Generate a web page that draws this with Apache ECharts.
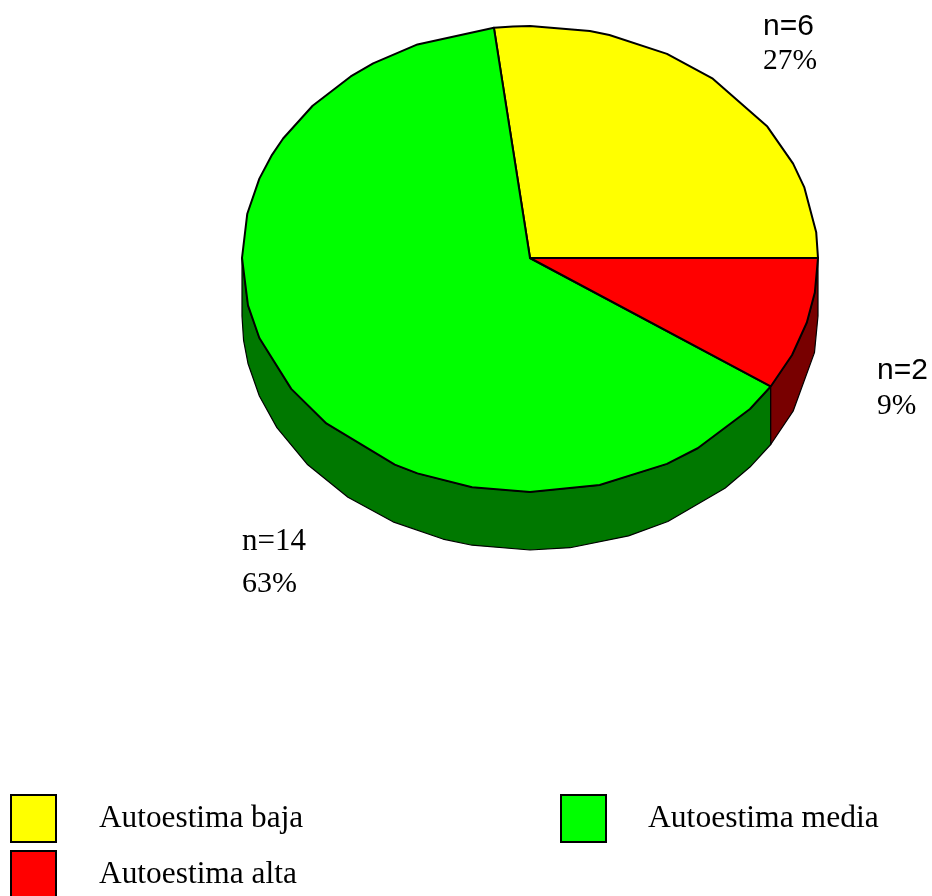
<!DOCTYPE html>
<html>
<head>
<meta charset="utf-8">
<style>html,body{margin:0;padding:0;background:#fff}#c{width:932px;height:896px}</style>
<script src="https://cdn.jsdelivr.net/npm/echarts@6/dist/echarts.min.js"></script>
</head>
<body>
<div id="c"></div>
<script>
// Data
const categories = ['Autoestima baja', 'Autoestima media', 'Autoestima alta'];
const counts = [6, 14, 2];
const countLabels = ['n=6', 'n=14', 'n=2'];
const percentLabels = ['27%', '63%', '9%'];
const sliceShares = [27, 63.75, 9.25];

// Appearance
const topColors = ['#ffff00', '#00ff00', '#ff0000'];
const sideColors = ['#7a7a00', '#007800', '#780000'];
const countFonts = ['"Liberation Sans"', '"Liberation Serif"', '"Liberation Sans"'];
const countSizes = [30, 31, 30];
const percentSizes = [29.5, 30, 29.5];
const labelAnchors = [[763, 27, 61], [242, 542, 584], [877, 371, 406]];
const legendAnchors = [[10, 794], [560, 794], [10, 850]];
const legendTextLift = [6, 6, 10];
const legendFontSizes = [31.3, 31.6, 31.4];
const legendTextGap = [38, 37, 38];
const CX = 530, CY = 258, RX = 288, RY_UP = 232, RY_DOWN = 234, DEPTH = 58;
// The outline of the disc is faceted: ellipse angles of the facets of its top rim and of its lower rim.
const topFacets = [0, 6.4, 17.8, 24, 34.5, 50.6, 61.6, 74, 78, 90, 93.4, 113, 123, 128.5, 139, 149, 153.6, 160, 169, 180,
  191.7, 200, 214, 225, 242, 247, 258.4, 270, 284, 298.4, 305.6, 319.8, 335.5, 344, 351.5, 360];
const lowerFacets = [180, 186, 191.7, 200, 208.5, 219.3, 230.8, 241.6, 252.4, 258.4, 270, 278, 290, 298.6, 312.6, 319.8,
  336, 351, 360];

const total = sliceShares.reduce((a, b) => a + b, 0);
const pt = (deg, dy) => {
  const r = deg * Math.PI / 180;
  const s = Math.sin(r);
  return [CX + RX * Math.cos(r), CY - (s > 0 ? RY_UP : RY_DOWN) * s + (dy || 0)];
};
const arcAngles = (list, a, b) => [a, ...list.filter(f => f > a + 0.5 && f < b - 0.5), b];

function makeRenderItem(idx) {
  return function (params, api) {
    const before = sliceShares.slice(0, idx).reduce((a, b) => a + b, 0);
    const start = before / total * 360;
    const end = (before + api.value(0)) / total * 360;
    const children = [];
    const sStart = Math.max(start, 180), sEnd = Math.min(end, 360);
    if (sEnd > sStart) {
      const pts = arcAngles(topFacets, sStart, sEnd).map(a => pt(a, 0))
        .concat(arcAngles(lowerFacets, sStart, sEnd).reverse().map(a => pt(a, DEPTH)));
      children.push({
        type: 'polygon', shape: { points: pts },
        style: { fill: sideColors[idx], stroke: '#000', lineWidth: 1.2, lineJoin: 'round' }
      });
    }
    const top = [[CX, CY]].concat(arcAngles(topFacets, start, end).map(a => pt(a, 0)));
    children.push({
      type: 'polygon', shape: { points: top },
      style: { fill: topColors[idx], stroke: '#000', lineWidth: 2, lineJoin: 'round' }
    });
    const a = labelAnchors[idx];
    children.push({
      type: 'text', z2: 10,
      style: { text: countLabels[idx], x: a[0], y: a[1], fill: '#000', align: 'left', verticalAlign: 'middle',
        font: countSizes[idx] + 'px ' + countFonts[idx] }
    });
    children.push({
      type: 'text', z2: 10,
      style: { text: percentLabels[idx], x: a[0], y: a[2], fill: '#000', align: 'left', verticalAlign: 'middle',
        font: percentSizes[idx] + 'px "Liberation Serif"' }
    });
    return { type: 'group', children };
  };
}

const chart = echarts.init(document.getElementById('c'), null, { renderer: 'canvas', width: 932, height: 896 });
chart.setOption({
  animation: false,
  backgroundColor: '#ffffff',
  legend: categories.map((name, i) => ({
    data: [name],
    left: legendAnchors[i][0],
    top: legendAnchors[i][1],
    padding: 0,
    icon: 'rect',
    itemWidth: 45,
    itemHeight: 47,
    selectedMode: false,
    itemStyle: { borderColor: '#000', borderWidth: 2 },
    textStyle: {
      color: '#000', fontFamily: '"Liberation Serif"', fontSize: legendFontSizes[i],
      padding: [0, 0, legendTextLift[i], legendTextGap[i]]
    }
  })),
  series: categories.map((name, i) => ({
    type: 'custom',
    name,
    coordinateSystem: 'none',
    silent: true,
    itemStyle: { color: topColors[i] },
    data: [sliceShares[i]],
    renderItem: makeRenderItem(i)
  }))
});
</script>
</body>
</html>
